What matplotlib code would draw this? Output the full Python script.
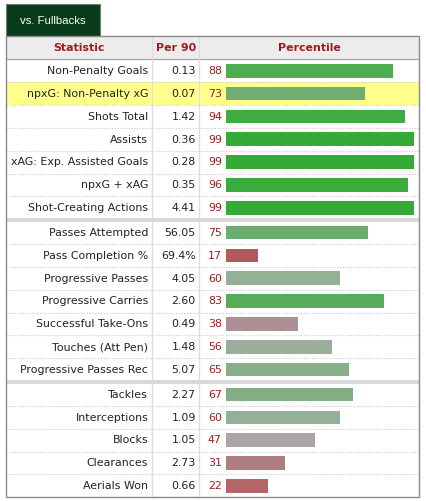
import matplotlib
matplotlib.use("Agg")
import matplotlib.pyplot as plt
from matplotlib.colors import LinearSegmentedColormap
from matplotlib.patches import Rectangle

# ---------------- data ----------------
tab_label = "vs. Fullbacks"
headers = ["Statistic", "Per 90", "Percentile"]
stats = ["Non-Penalty Goals", "npxG: Non-Penalty xG", "Shots Total", "Assists",
         "xAG: Exp. Assisted Goals", "npxG + xAG", "Shot-Creating Actions",
         "Passes Attempted", "Pass Completion %", "Progressive Passes",
         "Progressive Carries", "Successful Take-Ons", "Touches (Att Pen)",
         "Progressive Passes Rec",
         "Tackles", "Interceptions", "Blocks", "Clearances", "Aerials Won"]
per90 = ["0.13", "0.07", "1.42", "0.36", "0.28", "0.35", "4.41",
         "56.05", "69.4%", "4.05", "2.60", "0.49", "1.48", "5.07",
         "2.27", "1.09", "1.05", "2.73", "0.66"]
percentile = [88, 73, 94, 99, 99, 96, 99,
              75, 17, 60, 83, 38, 56, 65,
              67, 60, 47, 31, 22]
group_sizes = [7, 7, 5]
highlight_row = 1

# ---------------- layout (pixels) ----------------
W, H = 427, 501
X0, X1 = 6.3, 419.3
COL1, COL2 = 152.3, 199.3
HEAD_TOP, HEAD_BOT = 36.0, 59.3
ROW_H = 22.84
GAP = 2.0
BAR_X0, BAR_X1 = 226.0, 416.0
BAR_H = 13.6

cmap = LinearSegmentedColormap.from_list("pct", [
    (0.00, "#bb4444"), (0.17, "#b25a5b"), (0.31, "#ae7f80"), (0.40, "#ab9499"),
    (0.47, "#aaa5a5"), (0.60, "#94b096"), (0.75, "#6bae6e"), (0.85, "#52ae56"),
    (0.90, "#48ae4c"), (1.00, "#33aa35")])

fig = plt.figure(figsize=(W / 100, H / 100), dpi=100)
fig.patch.set_facecolor("white")
ax = fig.add_axes([0, 0, 1, 1])
ax.set_xlim(0, W)
ax.set_ylim(H, 0)
ax.axis("off")

FS = 7.9
txt_col = "#222222"
red = "#9e1b1f"

# row positions
row_top = []
y = HEAD_BOT
for g, n in enumerate(group_sizes):
    if g > 0:
        y += GAP
    for i in range(n):
        row_top.append(y)
        y += ROW_H
bottom = y
row_ctr = [t + ROW_H / 2 for t in row_top]

# tab
ax.add_patch(Rectangle((X0, 4.3), 94.0, HEAD_TOP - 4.3, facecolor="#073b1a",
                       edgecolor="#777777", lw=0.8, zorder=3))
ax.text(X0 + 47, 20.5, tab_label, color="white", fontsize=8.2,
        family="Liberation Sans", ha="center", va="center", zorder=4)

# header
ax.add_patch(Rectangle((X0, HEAD_TOP), X1 - X0, HEAD_BOT - HEAD_TOP,
                       facecolor="#ececec", edgecolor="none", zorder=1))
ax.plot([X0, X1], [HEAD_BOT, HEAD_BOT], color="#a0a0a0", lw=0.8, zorder=2)
for label, cx in zip(headers, [(X0 + COL1) / 2, (COL1 + COL2) / 2, (COL2 + X1) / 2]):
    ax.text(cx, (HEAD_TOP + HEAD_BOT) / 2 + 0.5, label, color=red, fontsize=FS,
            fontweight="bold", ha="center", va="center", zorder=3)

# highlight
ax.add_patch(Rectangle((X0, row_top[highlight_row]), X1 - X0, ROW_H,
                       facecolor="#ffff8c", edgecolor="none", zorder=1))

# dotted row lines
idx = 0
for g, n in enumerate(group_sizes):
    for i in range(n):
        if i < n - 1:
            yb = row_top[idx] + ROW_H
            ax.plot([X0, X1], [yb, yb], color="#c8c8c8", lw=0.8,
                    linestyle=(0, (1, 1.5)), zorder=2)
        idx += 1
    if g < len(group_sizes) - 1:
        yb = row_top[idx - 1] + ROW_H + GAP / 2
        ax.plot([X0, X1], [yb, yb], color="#d8d8d8", lw=2.8, zorder=2,
                solid_capstyle="butt")

# column dividers
for cx in (COL1, COL2):
    ax.plot([cx, cx], [HEAD_TOP, bottom], color="#dddddd", lw=0.9, zorder=2)

# outer border
ax.add_patch(Rectangle((X0, HEAD_TOP), X1 - X0, bottom - HEAD_TOP,
                       facecolor="none", edgecolor="#8a8a8a", lw=1.0, zorder=5))

# texts
for s, v, p, yc in zip(stats, per90, percentile, row_ctr):
    ax.text(COL1 - 4, yc + 0.3, s, color=txt_col, fontsize=FS, ha="right", va="center", zorder=3)
    ax.text(COL2 - 3.6, yc + 0.3, v, color=txt_col, fontsize=FS, ha="right", va="center", zorder=3)
    ax.text(208.0, yc + 0.3, str(p), color=red, fontsize=FS, ha="left", va="center", zorder=3)

# bars on their own axes (0-100 scale)
bx = fig.add_axes([BAR_X0 / W, 0, (BAR_X1 - BAR_X0) / W, 1])
bx.set_xlim(0, 100)
bx.set_ylim(H, 0)
bx.axis("off")
bx.patch.set_alpha(0)
colors = [cmap(p / 100) for p in percentile]
bx.barh(row_ctr, percentile, height=BAR_H, color=colors, edgecolor="none", zorder=3)

fig.savefig("out.png", dpi=100, facecolor="white")
